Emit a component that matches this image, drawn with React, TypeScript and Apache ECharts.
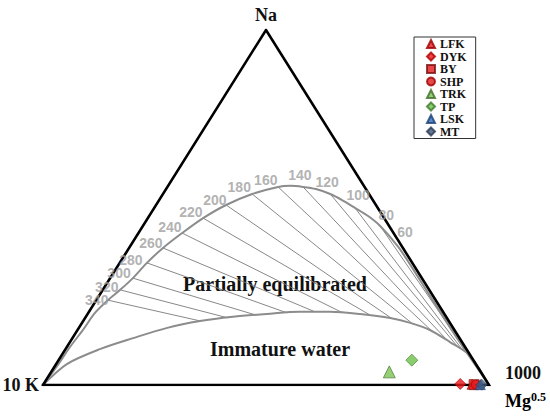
import React, { useEffect, useRef } from "react";
import * as echarts from "echarts";

// Ternary values as [Na %, Mg %]; K % = 100 - Na - Mg (vertices: Na top, 10K left, 1000 Mg^0.5 right)
const fullEquilibrium: number[][] = [
  [0, 0], [5.6, 0.5], [10.7, 0.7], [15.5, 1.2], [20.3, 1.5], [23.9, 2.6], [26.8, 3.9],
  [30.1, 5.1], [34.4, 6.1], [38.6, 7.6], [42.8, 9.8], [47.0, 12.4], [50.7, 15.7],
  [53.8, 20.0], [55.8, 24.8], [56.1, 27.4], [55.8, 30.4], [55.2, 33.6], [53.8, 37.5],
  [52.1, 41.0], [49.9, 45.0], [47.6, 49.1], [44.8, 53.2],
  [38.9, 60.2], [33.0, 66.3], [25.1, 74.2], [14.1, 85.3], [0, 100],
];

const immatureBoundary: number[][] = [
  [0, 0], [5.9, 2.4], [10.1, 7.7], [13.2, 13.6], [16.1, 19.8], [18.0, 26.2], [19.2, 33.0],
  [20.0, 40.2], [20.6, 47.3], [20.6, 54.1], [20.0, 61.1], [18.9, 68.4], [17.5, 73.6],
  [15.5, 79.0], [12.1, 85.2], [9.0, 90.6], [5.1, 95.0], [0, 100],
];

const isoTemps: number[] = [340, 320, 300, 280, 260, 240, 220, 200, 180, 160, 140, 120, 100, 80, 60];
const isoStart: number[][] = [
  [23.9, 2.6], [26.8, 3.9], [30.1, 5.1], [34.4, 6.1], [38.6, 7.6], [42.8, 9.8], [47.0, 12.4],
  [50.7, 15.7], [53.8, 20.0], [55.8, 24.8], [55.8, 30.4], [53.8, 37.5], [49.9, 45.0],
  [44.8, 53.2], [38.9, 60.2],
];
const isoEnd: number[][] = [
  [18.0, 26.4], [18.9, 32.0], [19.7, 37.9], [20.3, 44.6], [20.6, 50.7], [20.3, 57.1],
  [19.7, 63.5], [18.7, 68.9], [17.0, 74.6], [15.2, 79.6], [12.7, 84.2], [10.6, 87.8],
  [9.7, 89.3], [7.9, 91.8], [6.5, 93.4],
];
const isoLabelPos: number[][] = [
  [23.9, 0.1], [27.6, 0.5], [31.5, 1.3], [35.2, 2.1], [40.0, 4.2], [44.5, 6.2], [48.7, 8.8],
  [52.1, 12.5], [55.8, 16.1], [57.7, 21.1], [59.2, 28.0], [57.2, 35.1], [53.5, 43.9],
  [47.9, 53.0], [43.1, 59.6],
];

const sampleNames: string[] = ["LFK", "DYK", "BY", "SHP", "TRK", "TP", "LSK", "MT"];
const sampleValues: number[][] = [
  [0.2, 96.1], [0.3, 93.4], [0.1, 96.6], [0.1, 97.0], [3.7, 75.8], [7.0, 79.2], [0.1, 98.0], [0.1, 98.3],
];

// styles (kept apart from the data)
const sampleSymbols = ["triangle", "diamond", "rect", "circle", "triangle", "diamond", "triangle", "diamond"];
const sampleColors = ["#e31a1c", "#e8141c", "#e31a1c", "#e31a1c", "#7cc354", "#6cc04a", "#2f6ebd", "#3f5679"];
const sampleBorders = ["#9c0000", "#b00000", "#7a1010", "#9c0000", "#3f6b2a", "#3d7a2a", "#1c3f73", "#2a3a55"];
const sampleSizes = [10, 11, 10, 9, 12, 12, 10, 11];

const toXY = (p: number[]) => [p[1] + p[0] / 2, p[0]];

const SERIF = "'Times New Roman', 'Liberation Serif', serif";

export default function App() {
  const ref = useRef<HTMLDivElement>(null);
  useEffect(() => {
    document.body.style.margin = "0";
    const chart = echarts.init(ref.current!, undefined, { renderer: "svg" });
    const grey = "#8c8c8c";
    const series: any[] = [];

    isoTemps.forEach((t, i) => {
      series.push({
        type: "line",
        name: "iso" + t,
        data: [toXY(isoStart[i]), toXY(isoEnd[i])],
        symbol: "none",
        silent: true,
        lineStyle: { color: "#7a7a7a", width: 0.9 },
        z: 1,
      });
    });
    series.push({
      type: "line",
      name: "full",
      data: fullEquilibrium.map(toXY),
      smooth: 0.3,
      symbol: "none",
      silent: true,
      lineStyle: { color: grey, width: 2 },
      z: 2,
    });
    series.push({
      type: "line",
      name: "immature",
      data: immatureBoundary.map(toXY),
      smooth: 0.3,
      symbol: "none",
      silent: true,
      lineStyle: { color: grey, width: 2 },
      z: 2,
    });
    series.push({
      type: "line",
      name: "frame",
      data: [[0, 0], [50, 100], [100, 0], [0, 0]],
      symbol: "none",
      silent: true,
      lineStyle: { color: "#000", width: 2.6, join: "miter", cap: "square" },
      z: 3,
    });
    series.push({
      type: "scatter",
      name: "isoLabels",
      data: isoTemps.map((t, i) => ({ value: toXY(isoLabelPos[i]), name: String(t) })),
      symbolSize: 0,
      silent: true,
      label: {
        show: true,
        position: "inside",
        formatter: (p: any) => p.name,
        color: "#9e9e9e",
        fontFamily: "Arial, 'Liberation Sans', sans-serif",
        fontWeight: "bold",
        fontSize: 14,
      },
      z: 4,
    });
    sampleNames.forEach((n, i) => {
      series.push({
        type: "scatter",
        name: n,
        data: [toXY(sampleValues[i])],
        symbol: sampleSymbols[i],
        symbolSize: sampleSizes[i],
        itemStyle: { color: sampleColors[i], borderColor: sampleBorders[i], borderWidth: 0.8 },
        z: 5,
      });
    });

    const txt = (size: number) => ({ fontFamily: SERIF, fontWeight: "bold", fontSize: size, fill: "#111" });

    chart.setOption({
      animation: false,
      grid: { left: 43, right: 61, top: 30, bottom: 35 },
      xAxis: { type: "value", min: 0, max: 100, show: false },
      yAxis: { type: "value", min: 0, max: 100, show: false },
      legend: {
        data: sampleNames,
        orient: "vertical",
        left: 414,
        top: 37,
        itemWidth: 8,
        itemHeight: 8,
        itemGap: 0.5,
        padding: [1, 9, 1, 12],
        borderColor: "#333",
        borderWidth: 1,
        selectedMode: false,
        textStyle: { fontFamily: SERIF, fontWeight: "bold", fontSize: 12, color: "#111", lineHeight: 12 },
      },
      graphic: [
        { type: "text", x: 266, y: 15, style: { text: "Na", ...txt(18), align: "center", verticalAlign: "middle" } },
        { type: "text", x: 39, y: 385, style: { text: "10 K", ...txt(18), align: "right", verticalAlign: "middle" } },
        { type: "text", x: 505, y: 373, style: { text: "1000", ...txt(18), verticalAlign: "middle" } },
        {
          type: "text",
          x: 505,
          y: 401,
          style: {
            text: "{a|Mg}{b|0.5}",
            verticalAlign: "middle",
            rich: {
              a: { fontFamily: SERIF, fontWeight: "bold", fontSize: 18, color: "#111" },
              b: { fontFamily: SERIF, fontWeight: "bold", fontSize: 12, color: "#111", padding: [0, 0, 8, 0] },
            },
          },
        },
        {
          type: "text",
          x: 275,
          y: 284,
          style: { text: "Partially equilibrated", ...txt(20), align: "center", verticalAlign: "middle" },
        },
        {
          type: "text",
          x: 280,
          y: 349,
          style: { text: "Immature water", ...txt(20), align: "center", verticalAlign: "middle" },
        },
      ],
      series,
    });
    return () => chart.dispose();
  }, []);
  return <div ref={ref} style={{ width: 550, height: 420 }} />;
}
